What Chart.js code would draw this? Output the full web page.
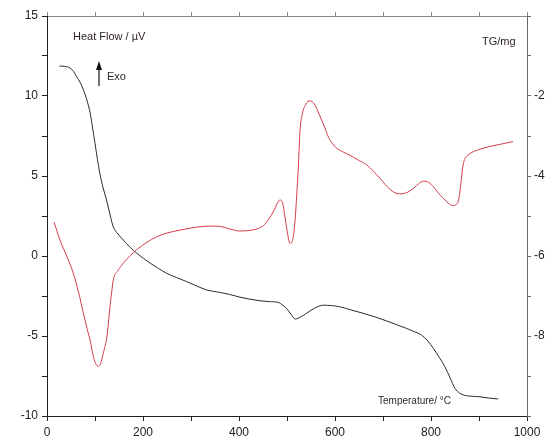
<!DOCTYPE html>
<html>
<head>
<meta charset="utf-8">
<script src="https://cdn.jsdelivr.net/npm/chart.js@4/dist/chart.umd.min.js"></script>
<style>
  body { margin: 0; background: #fff; }
  #wrap { width: 548px; height: 442px; }
</style>
</head>
<body>
<div id="wrap"><canvas id="dta" width="548" height="442"></canvas></div>
<script>
// Heat flow curve (red, left axis) - temperature in °C, heat flow in µV
const hfTemp = [15, 27, 41, 55, 66, 76, 84, 90, 96, 101, 107, 112, 117, 124, 128, 131, 135, 138, 148, 159,
    173, 187, 208, 228, 252, 277, 300, 319, 340, 360, 380, 402, 423, 440, 451, 462, 472, 480, 485, 490,
    494, 499, 503, 506, 510, 513, 517, 520, 524, 527, 532, 537, 546, 552, 558, 565, 572, 579, 586, 594,
    603, 617, 631, 648, 666, 680, 694, 705, 715, 725, 735, 745, 756, 770, 784, 795, 805, 815, 826, 836,
    846, 852, 857, 861, 864, 867, 871, 879, 888, 905, 923, 947, 971];
const hfValues = [2.1, 1.0, 0.0, -1.1, -2.3, -3.6, -4.6, -5.3, -6.2, -6.7, -6.9, -6.7, -6.1, -5.2, -4.2, -3.2, -2.2, -1.5, -0.9, -0.45,
    0.0, 0.4, 0.85, 1.2, 1.45, 1.62, 1.75, 1.83, 1.87, 1.85, 1.7, 1.56, 1.6, 1.72, 1.9, 2.3, 2.8, 3.3, 3.5, 3.4,
    2.8, 1.8, 1.1, 0.8, 0.85, 1.2, 2.3, 3.7, 5.8, 7.8, 8.9, 9.35, 9.7, 9.65, 9.45, 9.0, 8.5, 8.0, 7.45, 7.05,
    6.75, 6.5, 6.3, 6.0, 5.7, 5.3, 4.85, 4.45, 4.15, 3.95, 3.88, 3.92, 4.06, 4.4, 4.68, 4.6, 4.33, 3.95, 3.6, 3.3,
    3.15, 3.2, 3.45, 4.2, 5.0, 5.7, 6.1, 6.35, 6.52, 6.7, 6.85, 7.0, 7.15];

// TG curve (black, right axis) - temperature in °C, mass change in mg
const tgTemp = [26, 37, 48, 55, 62, 69, 76, 83, 90, 95, 100, 105, 110, 117, 124, 131, 138, 148, 159, 173,
    187, 201, 215, 232, 249, 270, 291, 312, 333, 360, 380, 402, 423, 444, 463, 482, 490, 499, 508, 517,
    529, 541, 558, 576, 593, 610, 634, 658, 683, 708, 729, 749, 765, 780, 793, 805, 817, 829, 840, 850,
    860, 869, 878, 902, 920, 940];
const tgValues = [-1.25, -1.26, -1.3, -1.38, -1.52, -1.66, -1.85, -2.1, -2.43, -2.8, -3.18, -3.58, -3.93, -4.3, -4.6, -4.95, -5.27, -5.45, -5.6, -5.78,
    -5.93, -6.06, -6.18, -6.31, -6.43, -6.54, -6.64, -6.75, -6.85, -6.91, -6.96, -7.03, -7.08, -7.12, -7.14, -7.16, -7.22, -7.31, -7.45, -7.575,
    -7.52, -7.43, -7.3, -7.23, -7.24, -7.27, -7.35, -7.43, -7.52, -7.625, -7.72, -7.81, -7.89, -7.975, -8.12, -8.31, -8.53, -8.77, -9.05, -9.31,
    -9.43, -9.48, -9.5, -9.52, -9.55, -9.575];

const FONT = '"Liberation Sans", Arial, sans-serif';

// Free text and the Exo arrow drawn on top of the chart
const notes = {
    id: 'notes',
    afterDraw(chart) {
        const ctx = chart.ctx;
        ctx.save();
        ctx.fillStyle = '#2a1f22';
        ctx.textBaseline = 'middle';
        ctx.font = '11px ' + FONT;
        ctx.fillText('Heat Flow / \u00b5V', 73, 37);
        ctx.fillText('TG/mg', 482, 42);
        ctx.font = '11px ' + FONT;
        ctx.fillText('Exo', 107, 77);
        ctx.font = '10px ' + FONT;
        ctx.fillText('Temperature/ \u00b0C', 378, 401);
        // arrow
        ctx.strokeStyle = '#111';
        ctx.lineWidth = 1.2;
        ctx.beginPath();
        ctx.moveTo(99, 86);
        ctx.lineTo(99, 68);
        ctx.stroke();
        ctx.fillStyle = '#111';
        ctx.beginPath();
        ctx.moveTo(99, 61);
        ctx.lineTo(96, 70);
        ctx.lineTo(102, 70);
        ctx.closePath();
        ctx.fill();
        ctx.restore();
    }
};

new Chart(document.getElementById('dta'), {
    type: 'line',
    data: {
        datasets: [
            {
                label: 'Heat Flow',
                data: hfTemp.map((t, i) => ({ x: t, y: hfValues[i] })),
                borderColor: '#d23d4c',
                borderWidth: 1,
                pointRadius: 0,
                cubicInterpolationMode: 'monotone',
                xAxisID: 'x',
                yAxisID: 'y'
            },
            {
                label: 'TG',
                data: tgTemp.map((t, i) => ({ x: t, y: tgValues[i] })),
                borderColor: '#2b2b2b',
                borderWidth: 1,
                pointRadius: 0,
                cubicInterpolationMode: 'monotone',
                xAxisID: 'x',
                yAxisID: 'y2'
            }
        ]
    },
    options: {
        responsive: false,
        animation: false,
        layout: { padding: 0 },
        plugins: {
            legend: { display: false },
            tooltip: { enabled: false }
        },
        scales: {
            x: {
                type: 'linear',
                position: 'bottom',
                min: 0,
                max: 1000,
                afterFit: s => { s.height = 26; },
                border: { color: '#222', width: 1 },
                grid: { drawOnChartArea: false, tickLength: 5, color: '#222' },
                ticks: {
                    stepSize: 100,
                    autoSkip: false,
                    maxRotation: 0,
                    padding: 4,
                    color: '#222',
                    font: { family: FONT, size: 12 },
                    callback: v => (v % 200 === 0 ? v : '')
                }
            },
            xTop: {
                type: 'linear',
                position: 'top',
                min: 0,
                max: 1000,
                afterFit: s => { s.height = 16; },
                border: { color: '#888', width: 1 },
                grid: { drawOnChartArea: false, tickLength: 4, color: '#888' },
                ticks: { stepSize: 100, display: false }
            },
            y: {
                position: 'left',
                min: -10,
                max: 15,
                afterFit: s => { s.width = 47; },
                border: { color: '#222', width: 1 },
                grid: { drawOnChartArea: false, tickLength: 5, color: '#222' },
                ticks: {
                    stepSize: 2.5,
                    autoSkip: false,
                    padding: 4,
                    color: '#222',
                    font: { family: FONT, size: 12 },
                    callback: v => (v % 5 === 0 ? v : '')
                }
            },
            y2: {
                position: 'right',
                min: -10,
                max: 0,
                afterFit: s => { s.width = 21; },
                border: { color: '#666', width: 1 },
                grid: { drawOnChartArea: false, tickLength: 4, color: '#666' },
                ticks: {
                    stepSize: 1,
                    autoSkip: false,
                    padding: 3,
                    color: '#222',
                    font: { family: FONT, size: 12 },
                    callback: v => (v % 2 === 0 && v !== 0 && v !== -10 ? v : '')
                }
            }
        }
    },
    plugins: [notes]
});
</script>
</body>
</html>
